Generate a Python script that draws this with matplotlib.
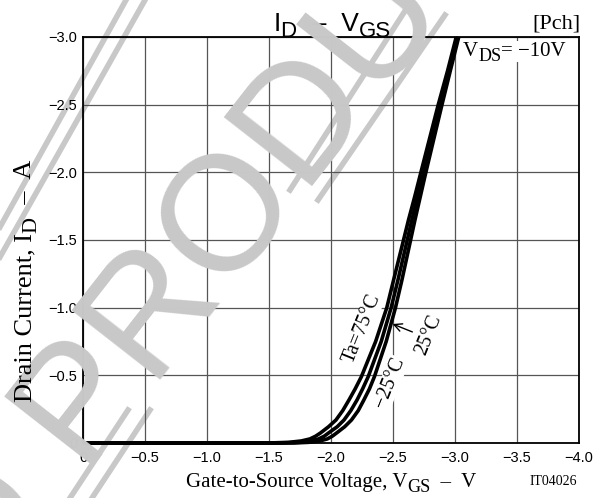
"""ID - VGS transfer curves (Pch), re-drawn from the datasheet figure."""

import matplotlib
matplotlib.use("Agg")
import matplotlib.pyplot as plt
from matplotlib.lines import Line2D

# --- data (VGS in V, ID in A, both negative) ---
id_levels = [0, -0.005, -0.015, -0.03, -0.05, -0.074, -0.12, -0.17, -0.24,
             -0.318, -0.4, -0.49, -0.75, -1.0, -1.205, -1.5, -1.648, -1.82,
             -2.0, -2.25, -2.5, -2.75, -3.0]
vgs_75 = [-1.50, -1.66, -1.76, -1.83, -1.875, -1.915, -1.98, -2.04, -2.095,
          -2.145, -2.195, -2.245, -2.36, -2.45, -2.505, -2.585, -2.625, -2.675,
          -2.725, -2.795, -2.865, -2.94, -3.01]
vgs_25 = [-1.60, -1.74, -1.83, -1.90, -1.945, -1.98, -2.05, -2.105, -2.16,
          -2.21, -2.255, -2.30, -2.405, -2.485, -2.54, -2.615, -2.652, -2.698,
          -2.745, -2.812, -2.88, -2.95, -3.02]
vgs_m25 = [-1.70, -1.82, -1.91, -1.97, -2.01, -2.045, -2.11, -2.165, -2.22,
           -2.265, -2.31, -2.35, -2.445, -2.52, -2.572, -2.642, -2.677, -2.72,
           -2.765, -2.83, -2.895, -2.962, -3.03]

x_ticks = [0, -0.5, -1.0, -1.5, -2.0, -2.5, -3.0, -3.5, -4.0]
x_tick_labels = ["0", "\u22120.5", "\u22121.0", "\u22121.5", "\u22122.0",
                 "\u22122.5", "\u22123.0", "\u22123.5", "\u22124.0"]
y_ticks = [0, -0.5, -1.0, -1.5, -2.0, -2.5, -3.0]
y_tick_labels = ["0", "\u22120.5", "\u22121.0", "\u22121.5", "\u22122.0",
                 "\u22122.5", "\u22123.0"]

SANS = "Liberation Sans"
SERIF = "Liberation Serif"
W, H = 605, 498
MINUS = "\u2212"
DASH = "\u2013"

fig = plt.figure(figsize=(W / 100, H / 100), dpi=100)

# --- watermark (behind everything) ---
fig.text(0.36, 0.52, "ED PRODUCT", family=SANS, fontsize=118,
         color="#c8c8c8", rotation=52, ha="center", va="center", zorder=0)
for (x0, y0), (x1, y1) in [((0, 227), (126, 0)), ((0, 257), (145, 0)),
                           ((290, 190), (412, 0)), ((318, 200), (445, 15)),
                           ((150, 410), (92, 498)), ((128, 410), (70, 498))]:
    fig.add_artist(Line2D([x0 / W, x1 / W], [1 - y0 / H, 1 - y1 / H],
                          transform=fig.transFigure, color="#c8c8c8",
                          lw=4, zorder=0))

ax = fig.add_axes([83 / W, 1 - 443 / H, (579 - 83) / W, (443 - 37) / H])
ax.patch.set_alpha(0)

# --- curves ---
for vgs in (vgs_75, vgs_25, vgs_m25):
    ax.plot([0] + vgs, [0] + id_levels, color="black", lw=2.6,
            solid_capstyle="butt", solid_joinstyle="round", clip_on=False,
            zorder=3)

ax.set_xlim(0, -4.0)
ax.set_ylim(0, -3.0)
ax.set_xticks(x_ticks)
ax.set_xticklabels(x_tick_labels)
ax.set_yticks(y_ticks)
ax.set_yticklabels(y_tick_labels)
ax.tick_params(length=0, labelsize=10.5, pad=6)
for lab in ax.get_xticklabels() + ax.get_yticklabels():
    lab.set_family(SANS)
ax.tick_params(axis="y", pad=4)
ax.grid(True, color="#555555", lw=0.9, zorder=0.5)
ax.set_axisbelow(True)
for side in ("top", "right", "left", "bottom"):
    ax.spines[side].set_linewidth(1.3)

# --- temperature labels ---
lbl = dict(family=SERIF, fontsize=14.5, rotation=68, ha="center", va="center",
           rotation_mode="anchor", zorder=2,
           bbox=dict(facecolor="white", edgecolor="none", pad=0.5))
ax.text(-2.254, -0.843, "Ta=75\u00b0C", **lbl)
ax.text(-2.79, -0.80, "25\u00b0C", **lbl)
ax.text(-2.476, -0.443, MINUS + "25\u00b0C", **lbl)
ax.annotate("", xy=(-2.476, -0.887), xytext=(-2.677, -0.813),
            arrowprops=dict(arrowstyle="->", color="black", lw=1.0,
                            mutation_scale=14), zorder=2)


def chain(x, y, parts, family, vertical=False, **kw):
    """Write text pieces one after another; (text, size, drop) per piece.

    Subscripts in the datasheet are almost full size, so mathtext is too
    small for them. The whole chain is centred on (x, y) afterwards.
    """
    s0, fs0, drop0 = parts[0]
    if vertical:
        first = fig.text(x, y, s0, fontsize=fs0, family=family, rotation=90,
                         ha="right", va="bottom", **kw)
    else:
        first = fig.text(x, y, s0, fontsize=fs0, family=family,
                         ha="left", va="bottom", **kw)
    pieces = [first]
    prev, prev_drop = first, drop0
    for s, fs, drop in parts[1:]:
        d = drop - prev_drop
        if vertical:
            t = ax.annotate(s, xy=(1, 1), xycoords=prev, xytext=(d, 0),
                            textcoords="offset points", rotation=90,
                            ha="right", va="bottom", fontsize=fs,
                            family=family, annotation_clip=False, **kw)
        else:
            t = ax.annotate(s, xy=(1, 0), xycoords=prev, xytext=(0, -d),
                            textcoords="offset points", ha="left",
                            va="bottom", fontsize=fs, family=family,
                            annotation_clip=False, **kw)
        pieces.append(t)
        prev, prev_drop = t, drop
    return pieces


def centre(pieces, x, y, vertical=False):
    fig.canvas.draw()
    r = fig.canvas.get_renderer()
    boxes = [p.get_window_extent(r) for p in pieces]
    if vertical:
        length = max(b.y1 for b in boxes) - min(b.y0 for b in boxes)
        pieces[0].set_position((x, y - length / 2 / H))
    else:
        length = max(b.x1 for b in boxes) - min(b.x0 for b in boxes)
        pieces[0].set_position((x - length / 2 / W, y))


# --- texts around the frame ---
title = chain(0, 1 - 36 / H, [("I", 19, 0), ("D", 16, 4),
                              ("  " + DASH + "  V", 19, 0), ("GS", 16, 4)],
              SANS)
fig.text(580 / W, 1 - 34 / H, "[Pch]", family=SERIF, fontsize=16,
         ha="right", va="bottom")
white = dict(facecolor="white", edgecolor="none", pad=0.6)
chain(463 / W, 1 - 61 / H, [("V", 15, 0), ("DS", 13, 3),
                           ("= " + MINUS + "10V", 15, 0)], SERIF,
      zorder=5, bbox=white)
xlab = chain(0, 1 - 492 / H, [("Gate-to-Source Voltage, V", 15, 0),
                              ("GS", 13, 3), ("  " + DASH + "  V", 15, 0)],
             SERIF)
fig.text(577 / W, 1 - 488 / H, "IT04026", family=SERIF, fontsize=10,
         ha="right", va="bottom")
ylab = chain(36 / W, 0, [("Drain Current, I", 19, 0), ("D", 16, 4),
                         ("  " + DASH + "  A", 19, 0)], SERIF, vertical=True)

centre(title, 332 / W, 1 - 36 / H)
centre(xlab, 331 / W, 1 - 492 / H)
centre(ylab, 36 / W, 1 - 281 / H, vertical=True)

fig.savefig("out.png", dpi=100)
